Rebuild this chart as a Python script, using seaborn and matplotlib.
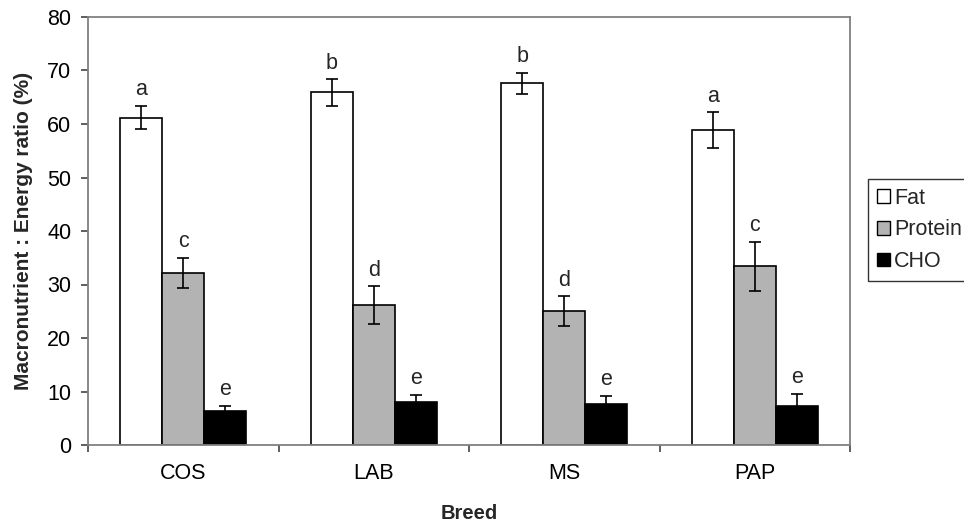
import matplotlib
matplotlib.use("Agg")
import matplotlib.pyplot as plt
import seaborn as sns
import pandas as pd
from matplotlib.patches import Patch

breeds = ["COS", "LAB", "MS", "PAP"]
nutrients = ["Fat", "Protein", "CHO"]
fat_mean = [61.2, 65.9, 67.6, 58.8]
fat_err = [2.2, 2.5, 2.0, 3.35]
protein_mean = [32.2, 26.2, 25.0, 33.4]
protein_err = [2.8, 3.5, 2.8, 4.6]
cho_mean = [6.4, 8.0, 7.7, 7.3]
cho_err = [0.9, 1.4, 1.5, 2.3]
fat_letters = ["a", "b", "b", "a"]
protein_letters = ["c", "d", "d", "c"]
cho_letters = ["e", "e", "e", "e"]

means = {"Fat": fat_mean, "Protein": protein_mean, "CHO": cho_mean}
errs = {"Fat": fat_err, "Protein": protein_err, "CHO": cho_err}
letters = {"Fat": fat_letters, "Protein": protein_letters, "CHO": cho_letters}
colors = {"Fat": "#ffffff", "Protein": "#b3b3b3", "CHO": "#000000"}

rows = []
for n in nutrients:
    for b, v in zip(breeds, means[n]):
        rows.append({"Breed": b, "Nutrient": n, "Value": v})
df = pd.DataFrame(rows)

sns.set_theme(style="white")
plt.rcParams["font.family"] = ["Liberation Sans", "DejaVu Sans"]

fig = plt.figure(figsize=(9.64, 5.28), dpi=100)
ax = fig.add_axes([88 / 964, 1 - 445 / 528, (850 - 88) / 964, (445 - 17) / 528])

sns.barplot(data=df, x="Breed", y="Value", hue="Nutrient", order=breeds,
            hue_order=nutrients, palette=colors, edgecolor="black",
            linewidth=1.2, width=0.66, errorbar=None, legend=False, ax=ax,
            saturation=1)

for n, cont in zip(nutrients, ax.containers):
    xs = [p.get_x() + p.get_width() / 2 for p in cont.patches]
    ys = [p.get_height() for p in cont.patches]
    ax.errorbar(xs, ys, yerr=errs[n], fmt="none", ecolor="black",
                elinewidth=1.2, capsize=4.3, capthick=1.2, zorder=5)
    for x, y, e, t in zip(xs, ys, errs[n], letters[n]):
        ax.annotate(t, (x, y + e), xytext=(0, 4), textcoords="offset points",
                    ha="center", va="bottom", fontsize=15.5)

ax.set_ylim(0, 80)
ax.set_xlim(-0.5, 3.5)
ax.set_yticks(range(0, 81, 10))
ax.set_xticks([-0.5, 0.5, 1.5, 2.5, 3.5])
ax.set_xticklabels([])
ax.set_xticks(range(len(breeds)), minor=True)
ax.set_xticklabels(breeds, minor=True)
ax.tick_params(axis="x", which="major", bottom=True, direction="out",
               length=5, width=1.1, color="#333333")
ax.tick_params(axis="x", which="minor", bottom=True, length=0, pad=13,
               labelsize=15.5, labelcolor="black")
ax.tick_params(axis="y", left=True, direction="out", length=5, width=1.1,
               color="#333333", pad=7, labelsize=15.5, labelcolor="black")

for s in ax.spines.values():
    s.set_visible(True)
    s.set_color("#808080")
    s.set_linewidth(1.3)

ax.set_xlabel("Breed", fontsize=14.5, fontweight="bold")
ax.xaxis.set_label_coords(0.5, -0.137)
ax.set_ylabel("Macronutrient : Energy ratio (%)", fontsize=15,
              fontweight="bold")
ax.yaxis.set_label_coords(-0.072, 0.5)

handles = [Patch(facecolor=colors[n], edgecolor="black", linewidth=1.0,
                 label=n) for n in nutrients]
leg = fig.legend(handles=handles, loc="upper left",
                 bbox_to_anchor=(868 / 964, 1 - 179 / 528),
                 bbox_transform=fig.transFigure, borderaxespad=0,
                 frameon=True, fancybox=False, fontsize=15.5,
                 handlelength=0.6, handleheight=0.6, handletextpad=0.2,
                 labelspacing=0.5, borderpad=0.4)
leg.get_frame().set_edgecolor("black")
leg.get_frame().set_linewidth(1.0)

fig.savefig("out.png", dpi=100)
